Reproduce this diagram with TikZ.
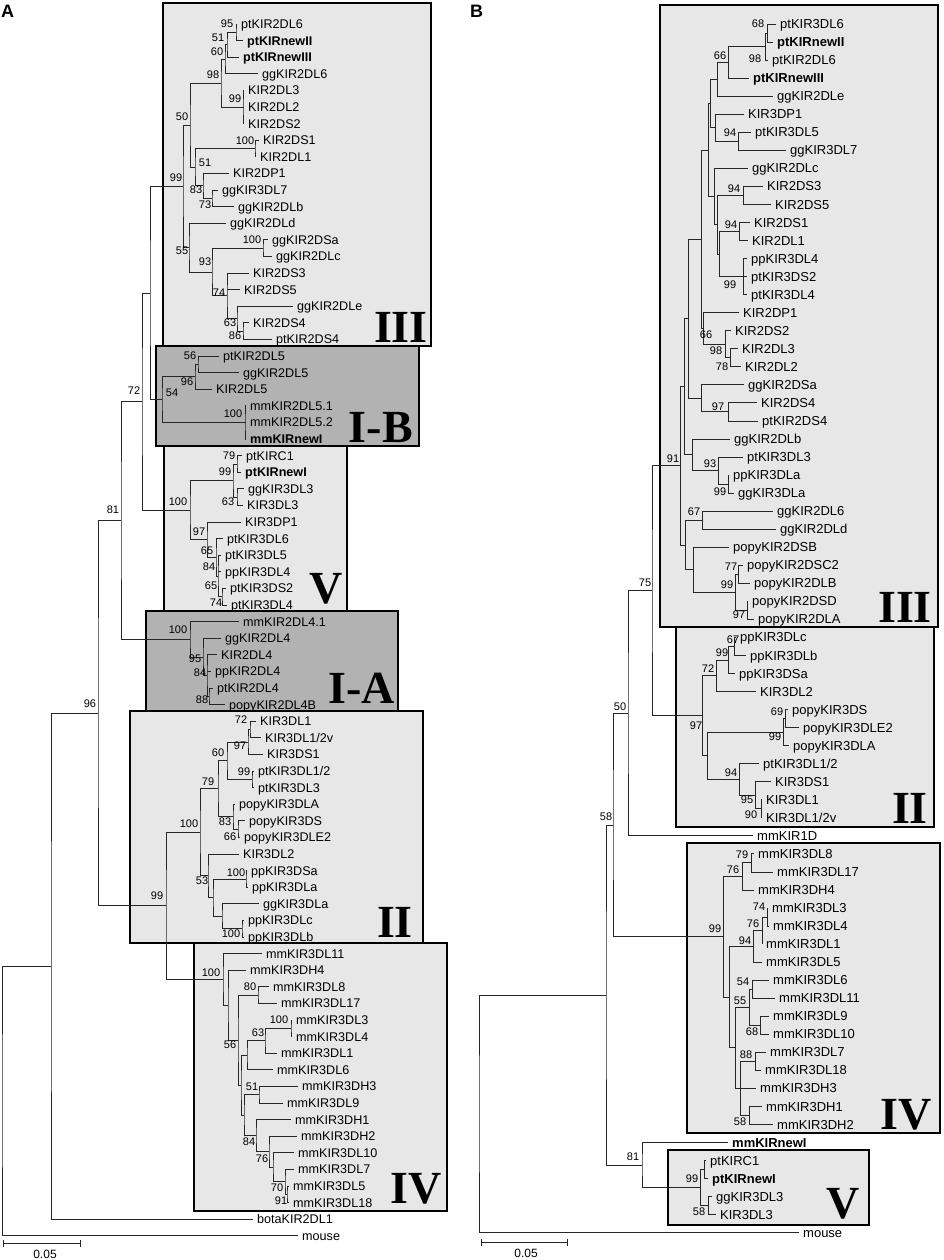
\documentclass[tikz,border=0pt]{standalone}
\usepackage{fontspec}
\setmainfont{Liberation Sans}
\newfontfamily\cladefont{Liberation Serif}
\usetikzlibrary{calc}
\definecolor{lightbox}{gray}{0.905}
\definecolor{darkbox}{gray}{0.70}
\tikzset{
 tbr/.style={line width=0.75pt, black!85},
 box/.style={draw=black, line width=1.8pt, fill=lightbox},
 dbox/.style={draw=black, line width=1.8pt, fill=darkbox},
 leafA/.style={anchor=base west, inner sep=0pt, xshift=4pt, yshift=-4.5pt, font=\fontsize{12.6}{14}\selectfont},
 leafB/.style={anchor=base west, inner sep=0pt, xshift=4pt, yshift=-4.6pt, font=\fontsize{13}{15}\selectfont},
 bsl/.style={inner sep=0pt, font=\fontsize{11}{12}\selectfont},
 clade/.style={anchor=base east, inner sep=0pt, font=\cladefont\bfseries\fontsize{46}{46}\selectfont},
 panel/.style={anchor=base west, inner sep=0pt, font=\bfseries\fontsize{18}{18}\selectfont},
}
\newcommand\lfA[4]{\coordinate (#1) at (#3,{24+16.6*#2}); \node[leafA] (#1t) at (#1) {#4};}
\newcommand\lfB[4]{\coordinate (#1) at (#3,{24+18.04*#2}); \node[leafB] (#1t) at (#1) {#4};}
\newcommand\inode[4]{\path let \p1=($(#3)!0.5!(#4)$) in coordinate (#1) at (#2pt,\y1); \draw[tbr] (#3) -| (#1) |- (#4);}
\newcommand\midc[2]{\draw[tbr] (#1 |- #2) -- (#2);}
\newcommand\bsv[3]{\node[bsl] (bs#1-#2) at (#1,#2) {#3};}
\begin{document}
\begin{tikzpicture}[x=1pt,y=-1pt]
\useasboundingbox (0,0) rectangle (943,1260);
% ---------- boxes
\draw[box] (163,3) rectangle (431,346);
\draw[dbox] (156,346) rectangle (419,446);
\draw[box] (164,446) rectangle (347,611);
\draw[dbox] (146,611) rectangle (398,711);
\draw[box] (130,711) rectangle (423,943);
\draw[box] (194,943) rectangle (447,1211);
\draw[box] (660,5) rectangle (938,627);
\draw[box] (676,627) rectangle (934,827);
\draw[box] (687,843) rectangle (940,1133);
\draw[box] (668,1150) rectangle (869,1225);
% clade letters
\node[clade] (cA3) at (428,342) {III};
\node[clade] (cA1B) at (413,442) {I-B};
\node[clade] (cA5) at (343,603) {V};
\node[clade] (cA1A) at (395,703) {I-A};
\node[clade] (cA2) at (413,937) {II};
\node[clade] (cA4) at (442,1203) {IV};
\node[clade] (cB3) at (932,622) {III};
\node[clade] (cB2) at (928,823) {II};
\node[clade] (cB4) at (932,1129) {IV};
\node[clade] (cB5) at (860,1218) {V};
\node[panel] (pA) at (1,18) {A};
\node[panel] (pB) at (470,18) {B};
% ---------- panel A leaves
\lfA{a0}{0}{237}{ptKIR2DL6}
\lfA{a1}{1}{243}{\textbf{ptKIRnewII}}
\lfA{a2}{2}{239}{\textbf{ptKIRnewIII}}
\lfA{a3}{3}{258}{ggKIR2DL6}
\lfA{a4}{4}{244}{KIR2DL3}
\lfA{a5}{5}{244}{KIR2DL2}
\lfA{a6}{6}{244}{KIR2DS2}
\lfA{a7}{7}{259}{KIR2DS1}
\lfA{a8}{8}{256}{KIR2DL1}
\lfA{a9}{9}{229}{KIR2DP1}
\lfA{a10}{10}{218}{ggKIR3DL7}
\lfA{a11}{11}{234}{ggKIR2DLb}
\lfA{a12}{12}{226}{ggKIR2DLd}
\lfA{a13}{13}{268}{ggKIR2DSa}
\lfA{a14}{14}{272}{ggKIR2DLc}
\lfA{a15}{15}{249}{KIR2DS3}
\lfA{a16}{16}{240}{KIR2DS5}
\lfA{a17}{17}{293}{ggKIR2DLe}
\lfA{a18}{18}{249}{KIR2DS4}
\lfA{a19}{19}{272}{ptKIR2DS4}
\lfA{a20}{20}{219}{ptKIR2DL5}
\lfA{a21}{21}{239}{ggKIR2DL5}
\lfA{a22}{22}{212}{KIR2DL5}
\lfA{a23}{23}{246}{mmKIR2DL5.1}
\lfA{a24}{24}{246}{mmKIR2DL5.2}
\lfA{a25}{25}{246}{\textbf{mmKIRnewI}}
\lfA{a26}{26}{242}{ptKIRC1}
\lfA{a27}{27}{241}{\textbf{ptKIRnewI}}
\lfA{a28}{28}{244}{ggKIR3DL3}
\lfA{a29}{29}{243}{KIR3DL3}
\lfA{a30}{30}{241}{KIR3DP1}
\lfA{a31}{31}{223}{ptKIR3DL6}
\lfA{a32}{32}{221}{ptKIR3DL5}
\lfA{a33}{33}{221}{ppKIR3DL4}
\lfA{a34}{34}{226}{ptKIR3DS2}
\lfA{a35}{35}{227}{ptKIR3DL4}
\lfA{a36}{36}{239}{mmKIR2DL4.1}
\lfA{a37}{37}{221}{ggKIR2DL4}
\lfA{a38}{38}{217}{KIR2DL4}
\lfA{a39}{39}{211}{ppKIR2DL4}
\lfA{a40}{40}{213}{ptKIR2DL4}
\lfA{a41}{41}{225}{popyKIR2DL4B}
\lfA{a42}{42}{256}{KIR3DL1}
\lfA{a43}{43}{261}{KIR3DL1/2v}
\lfA{a44}{44}{263}{KIR3DS1}
\lfA{a45}{45}{254}{ptKIR3DL1/2}
\lfA{a46}{46}{254}{ptKIR3DL3}
\lfA{a47}{47}{235}{popyKIR3DLA}
\lfA{a48}{48}{245}{popyKIR3DS}
\lfA{a49}{49}{240}{popyKIR3DLE2}
\lfA{a50}{50}{239}{KIR3DL2}
\lfA{a51}{51}{247}{ppKIR3DSa}
\lfA{a52}{52}{248}{ppKIR3DLa}
\lfA{a53}{53}{259}{ggKIR3DLa}
\lfA{a54}{54}{244}{ppKIR3DLc}
\lfA{a55}{55}{244}{ppKIR3DLb}
\lfA{a56}{56}{262}{mmKIR3DL11}
\lfA{a57}{57}{246}{mmKIR3DH4}
\lfA{a58}{58}{269}{mmKIR3DL8}
\lfA{a59}{59}{277}{mmKIR3DL17}
\lfA{a60}{60}{292}{mmKIR3DL3}
\lfA{a61}{61}{292}{mmKIR3DL4}
\lfA{a62}{62}{277}{mmKIR3DL1}
\lfA{a63}{63}{273}{mmKIR3DL6}
\lfA{a64}{64}{298}{mmKIR3DH3}
\lfA{a65}{65}{283}{mmKIR3DL9}
\lfA{a66}{66}{291}{mmKIR3DH1}
\lfA{a67}{67}{297}{mmKIR3DH2}
\lfA{a68}{68}{294}{mmKIR3DL10}
\lfA{a69}{69}{294}{mmKIR3DL7}
\lfA{a70}{70}{289}{mmKIR3DL5}
\lfA{a71}{71}{289}{mmKIR3DL18}
\lfA{a72}{72}{253}{botaKIR2DL1}
\lfA{a73}{73}{298}{mouse}
% ---------- panel A tree
\inode{n95}{236}{a0}{a1}
\inode{n51}{227}{n95}{a2}
\inode{n60}{225}{n51}{a3}
\inode{n99a}{243}{a4}{a6}\midc{n99a}{a5}
\inode{n98}{221}{n60}{n99a}
\inode{n100a}{255}{a7}{a8}
\inode{n73}{212}{a10}{a11}
\inode{n83}{203}{a9}{n73}
\inode{n51b}{195}{n100a}{n83}
\inode{n50}{190}{n98}{n51b}
\inode{n100b}{263}{a13}{a14}
\inode{n86}{243}{a18}{a19}
\inode{n63}{237}{a17}{n86}
\inode{n74}{227}{a15}{n63}\midc{n74}{a16}
\inode{n93}{212}{n100b}{n74}
\inode{n55}{189}{a12}{n93}
\inode{n99b}{183}{n50}{n55}
\inode{n56}{198}{a20}{a21}
\inode{n96b}{195}{n56}{a22}
\inode{n100c}{245}{a23}{a25}\midc{n100c}{a24}
\inode{n54}{162}{n96b}{n100c}
\inode{nIIIB}{150}{n99b}{n54}
\inode{n79}{237}{a26}{a27}
\inode{n63v}{237}{a28}{a29}
\inode{n99v}{233}{n79}{n63v}
\inode{n65b}{222}{a34}{a35}
\inode{n84v}{218}{a32}{n65b}\midc{n84v}{a33}
\inode{n65a}{216}{a31}{n84v}
\inode{n97v}{207}{a30}{n65a}
\inode{n100v}{190}{n99v}{n97v}
\inode{n72}{142}{nIIIB}{n100v}
\inode{n88}{209}{a40}{a41}
\inode{n84IA}{207}{a38}{n88}\midc{n84IA}{a39}
\inode{n95IA}{203}{a37}{n84IA}
\inode{n100IA}{190}{a36}{n95IA}
\inode{n81}{121}{n72}{n100IA}
\inode{n72II}{250}{a42}{a43}
\inode{n97II}{248}{n72II}{a44}
\inode{n99IIb}{252}{a45}{a46}
\inode{n60II}{227}{n97II}{n99IIb}
\inode{n66II}{238}{a48}{a49}
\inode{n83II}{233}{a47}{n66II}
\inode{n79II}{218}{n60II}{n83II}
\inode{n100IIc}{246}{a51}{a52}
\inode{n100IId}{242}{a54}{a55}
\inode{nG}{222}{a53}{n100IId}
\inode{nX}{213}{n100IIc}{nG}
\inode{n53II}{208}{a50}{nX}
\inode{n100II}{200}{n79II}{n53II}
\inode{n80}{258}{a58}{a59}
\inode{n100IVb}{291}{a60}{a61}
\inode{n63IV}{265}{n100IVb}{a62}
\inode{nY}{247}{n63IV}{a63}
\inode{n51IV}{259}{a64}{a65}
\inode{n91IV}{287}{a70}{a71}
\inode{n70IV}{285}{a69}{n91IV}
\inode{n273}{273}{a68}{n70IV}
\inode{n76IV}{269}{a67}{n273}
\inode{n84IV}{256}{a66}{n76IV}
\inode{nZ}{244}{n51IV}{n84IV}
\inode{nXIV}{241}{nY}{nZ}
\inode{n56IV}{238}{n80}{nXIV}
\inode{nH4}{228}{a57}{n56IV}
\inode{n100IV}{223}{a56}{nH4}
\inode{n99II}{166}{n100II}{n100IV}
\inode{n96}{98}{n81}{n99II}
\inode{nbota}{51}{n96}{a72}
\inode{rootA}{2}{nbota}{a73}
% panel A support values
\bsv{227}{24}{95}\bsv{218}{38}{51}\bsv{217}{52}{60}\bsv{213}{75}{98}\bsv{235}{99}{99}
\bsv{182}{117}{50}\bsv{245}{141}{100}\bsv{205}{163}{51}\bsv{176}{178}{99}\bsv{196}{190}{83}
\bsv{205}{205}{73}\bsv{182}{251}{55}\bsv{252}{240}{100}\bsv{205}{262}{93}\bsv{219}{293}{74}
\bsv{230}{323}{63}\bsv{235}{336}{86}
\bsv{190}{356}{56}\bsv{187}{382}{96}\bsv{172}{393}{54}\bsv{233}{414}{100}
\bsv{134}{391}{72}\bsv{113}{510}{81}\bsv{90}{704}{96}
\bsv{229}{456}{79}\bsv{225}{472}{99}\bsv{228}{502}{63}\bsv{178}{502}{100}\bsv{199}{532}{97}
\bsv{207}{551}{65}\bsv{209}{567}{84}\bsv{211}{586}{65}\bsv{216}{603}{74}
\bsv{178}{630}{100}\bsv{195}{659}{95}\bsv{200}{673}{84}\bsv{202}{700}{88}
\bsv{241}{720}{72}\bsv{240}{746}{97}\bsv{218}{753}{60}\bsv{244}{772}{99}\bsv{208}{782}{79}
\bsv{189}{824}{100}\bsv{225}{822}{83}\bsv{230}{837}{66}\bsv{202}{881}{53}\bsv{236}{873}{100}
\bsv{157}{896}{99}\bsv{231}{934}{100}
\bsv{211}{973}{100}\bsv{250}{987}{80}\bsv{279}{1020}{100}\bsv{258}{1033}{63}\bsv{230}{1045}{56}
\bsv{252}{1087}{51}\bsv{249}{1142}{84}\bsv{262}{1159}{76}\bsv{277}{1188}{70}\bsv{281}{1201}{91}
% ---------- panel B leaves
\lfB{b0}{0}{776}{ptKIR3DL6}
\lfB{b1}{1}{773}{\textbf{ptKIRnewII}}
\lfB{b2}{2}{768}{ptKIR2DL6}
\lfB{b3}{3}{749}{\textbf{ptKIRnewIII}}
\lfB{b4}{4}{773}{ggKIR2DLe}
\lfB{b5}{5}{744}{KIR3DP1}
\lfB{b6}{6}{751}{ptKIR3DL5}
\lfB{b7}{7}{786}{ggKIR3DL7}
\lfB{b8}{8}{748}{ggKIR2DLc}
\lfB{b9}{9}{763}{KIR2DS3}
\lfB{b10}{10}{771}{KIR2DS5}
\lfB{b11}{11}{750}{KIR2DS1}
\lfB{b12}{12}{748}{KIR2DL1}
\lfB{b13}{13}{747}{ppKIR3DL4}
\lfB{b14}{14}{747}{ptKIR3DS2}
\lfB{b15}{15}{747}{ptKIR3DL4}
\lfB{b16}{16}{739}{KIR2DP1}
\lfB{b17}{17}{731}{KIR2DS2}
\lfB{b18}{18}{738}{KIR2DL3}
\lfB{b19}{19}{741}{KIR2DL2}
\lfB{b20}{20}{744}{ggKIR2DSa}
\lfB{b21}{21}{757}{KIR2DS4}
\lfB{b22}{22}{758}{ptKIR2DS4}
\lfB{b23}{23}{730}{ggKIR2DLb}
\lfB{b24}{24}{743}{ptKIR3DL3}
\lfB{b25}{25}{729}{ppKIR3DLa}
\lfB{b26}{26}{734}{ggKIR3DLa}
\lfB{b27}{27}{773}{ggKIR2DL6}
\lfB{b28}{28}{776}{ggKIR2DLd}
\lfB{b29}{29}{729}{popyKIR2DSB}
\lfB{b30}{30}{743}{popyKIR2DSC2}
\lfB{b31}{31}{750}{popyKIR2DLB}
\lfB{b32}{32}{748}{popyKIR2DSD}
\lfB{b33}{33}{754}{popyKIR2DLA}
\lfB{b34}{34}{736}{ppKIR3DLc}
\lfB{b35}{35}{746}{ppKIR3DLb}
\lfB{b36}{36}{735}{ppKIR3DSa}
\lfB{b37}{37}{756}{KIR3DL2}
\lfB{b38}{38}{788}{popyKIR3DS}
\lfB{b39}{39}{799}{popyKIR3DLE2}
\lfB{b40}{40}{789}{popyKIR3DLA}
\lfB{b41}{41}{759}{ptKIR3DL1/2}
\lfB{b42}{42}{771}{KIR3DS1}
\lfB{b43}{43}{762}{KIR3DL1}
\lfB{b44}{44}{762}{KIR3DL1/2v}
\lfB{b45}{45}{753}{mmKIR1D}
\lfB{b46}{46}{754}{mmKIR3DL8}
\lfB{b47}{47}{773}{mmKIR3DL17}
\lfB{b48}{48}{754}{mmKIR3DH4}
\lfB{b49}{49}{768}{mmKIR3DL3}
\lfB{b50}{50}{769}{mmKIR3DL4}
\lfB{b51}{51}{762}{mmKIR3DL1}
\lfB{b52}{52}{762}{mmKIR3DL5}
\lfB{b53}{53}{769}{mmKIR3DL6}
\lfB{b54}{54}{775}{mmKIR3DL11}
\lfB{b55}{55}{769}{mmKIR3DL9}
\lfB{b56}{56}{769}{mmKIR3DL10}
\lfB{b57}{57}{766}{mmKIR3DL7}
\lfB{b58}{58}{761}{mmKIR3DL18}
\lfB{b59}{59}{756}{mmKIR3DH3}
\lfB{b60}{60}{762}{mmKIR3DH1}
\lfB{b61}{61}{773}{mmKIR3DH2}
\lfB{b62}{62}{728}{\textbf{mmKIRnewI}}
\lfB{b63}{63}{706}{ptKIRC1}
\lfB{b64}{64}{708}{\textbf{ptKIRnewI}}
\lfB{b65}{65}{712}{ggKIR3DL3}
\lfB{b66}{66}{716}{KIR3DL3}
\lfB{b67}{67}{799}{mouse}
% ---------- panel B tree
\inode{m68}{767}{b0}{b1}
\inode{m98}{765}{m68}{b2}
\inode{m66}{728}{m98}{b3}
\inode{mE}{717}{m66}{b4}
\inode{m94a}{738}{b6}{b7}
\inode{mG}{715}{b5}{m94a}
\inode{mH}{710}{mE}{mG}
\inode{m94b}{743}{b9}{b10}
\inode{m94c}{739}{b11}{b12}
\inode{m99c}{743}{b13}{b15}\midc{m99c}{b14}
\inode{mI}{719}{m94c}{m99c}
\inode{mJ}{717}{m94b}{mI}
\inode{mK}{714}{b8}{mJ}
\inode{mL}{708}{mH}{mK}
\inode{m78}{730}{b18}{b19}
\inode{m98d}{725}{b17}{m78}
\inode{m66d}{703}{b16}{m98d}
\inode{mB1}{701}{mL}{m66d}
\inode{m97d}{728}{b21}{b22}
\inode{mP}{701}{b20}{m97d}
\inode{mC1}{688}{mB1}{mP}
\inode{m99e}{728}{b25}{b26}
\inode{m93e}{718}{b24}{m99e}
\inode{mR}{692}{b23}{m93e}
\inode{mD1}{684}{mC1}{mR}
\inode{m67e}{702}{b27}{b28}
\inode{m77}{738}{b30}{b31}
\inode{m97f}{747}{b32}{b33}
\inode{m99f}{735}{m77}{m97f}
\inode{mS}{693}{b29}{m99f}
\inode{mT}{685}{m67e}{mS}
\inode{m91}{680}{mD1}{mT}
\inode{m67g}{734}{b34}{b35}
\inode{m99g}{728}{m67g}{b36}
\inode{m72g}{716}{m99g}{b37}
\inode{m69}{785}{b38}{b39}
\inode{m99h}{783}{m69}{b40}
\inode{m90}{761}{b43}{b44}
\inode{m95h}{755}{b42}{m90}
\inode{m94h}{739}{b41}{m95h}
\inode{mI2}{707}{m99h}{m94h}
\inode{m97g}{702}{m72g}{mI2}
\inode{m75}{652}{m91}{m97g}
\inode{m50}{628}{m75}{b45}
\inode{m79h}{751}{b46}{b47}
\inode{m76h}{742}{m79h}{b48}
\inode{m74h}{767}{b49}{b50}
\inode{m76i}{762}{m74h}{b51}
\inode{m94i}{753}{m76i}{b52}
\inode{m54h}{752}{b53}{b54}
\inode{m68h}{760}{b55}{b56}
\inode{m55h}{749}{m54h}{m68h}
\inode{m88h}{755}{b57}{b58}
\inode{m58h}{749}{b60}{b61}
\inode{mJ2}{740}{m88h}{m58h}\midc{mJ2}{b59}
\inode{mK2}{735}{m55h}{mJ2}
\inode{mL2}{729}{m94i}{mK2}
\inode{mM2}{723}{m76h}{mL2}
\inode{m58}{613}{m50}{mM2}
\inode{m706}{704}{b63}{b64}
\inode{m58V}{708}{b65}{b66}
\inode{m99V}{700}{m706}{m58V}
\inode{m81B}{642}{b62}{m99V}
\inode{m605}{606}{m58}{m81B}
\inode{rootB}{479}{m605}{b67}
% panel B support values
\bsv{758}{24}{68}\bsv{755}{59}{98}\bsv{720}{56}{66}\bsv{730}{133}{94}\bsv{734}{189}{94}
\bsv{731}{225}{94}\bsv{730}{285}{99}\bsv{706}{335}{66}\bsv{716}{351}{98}\bsv{722}{367}{78}
\bsv{718}{407}{97}\bsv{673}{459}{91}\bsv{710}{464}{93}\bsv{720}{492}{99}\bsv{694}{512}{67}
\bsv{731}{567}{77}\bsv{727}{585}{99}\bsv{739}{615}{97}
\bsv{645}{583}{75}\bsv{620}{707}{50}\bsv{606}{817}{58}
\bsv{733}{640}{67}\bsv{722}{653}{99}\bsv{708}{669}{72}\bsv{696}{726}{97}\bsv{777}{712}{69}
\bsv{775}{737}{99}\bsv{731}{773}{94}\bsv{747}{800}{95}\bsv{751}{815}{90}
\bsv{742}{855}{79}\bsv{733}{870}{76}\bsv{759}{907}{74}\bsv{753}{924}{76}\bsv{715}{929}{99}
\bsv{745}{941}{94}\bsv{743}{982}{54}\bsv{740}{1001}{55}\bsv{752}{1032}{68}\bsv{746}{1055}{88}
\bsv{740}{1122}{58}
\bsv{633}{1157}{81}\bsv{692}{1179}{99}\bsv{699}{1212}{58}
% ---------- scale bars
\coordinate (sa1) at (3,1243); \coordinate (sa2) at (80,1243);
\draw[tbr] (sa1) -- (sa2);
\draw[tbr] ([yshift=3.5pt]sa1) -- ([yshift=-3.5pt]sa1);
\draw[tbr] ([yshift=3.5pt]sa2) -- ([yshift=-3.5pt]sa2);
\node[inner sep=0pt, font=\fontsize{12}{12}\selectfont] (sla) at (45,1254) {0.05};
\coordinate (sb1) at (481,1242); \coordinate (sb2) at (567,1242);
\draw[tbr] (sb1) -- (sb2);
\draw[tbr] ([yshift=3.5pt]sb1) -- ([yshift=-3.5pt]sb1);
\draw[tbr] ([yshift=3.5pt]sb2) -- ([yshift=-3.5pt]sb2);
\node[inner sep=0pt, font=\fontsize{12}{12}\selectfont] (slb) at (526,1253) {0.05};
\end{tikzpicture}
\end{document}
